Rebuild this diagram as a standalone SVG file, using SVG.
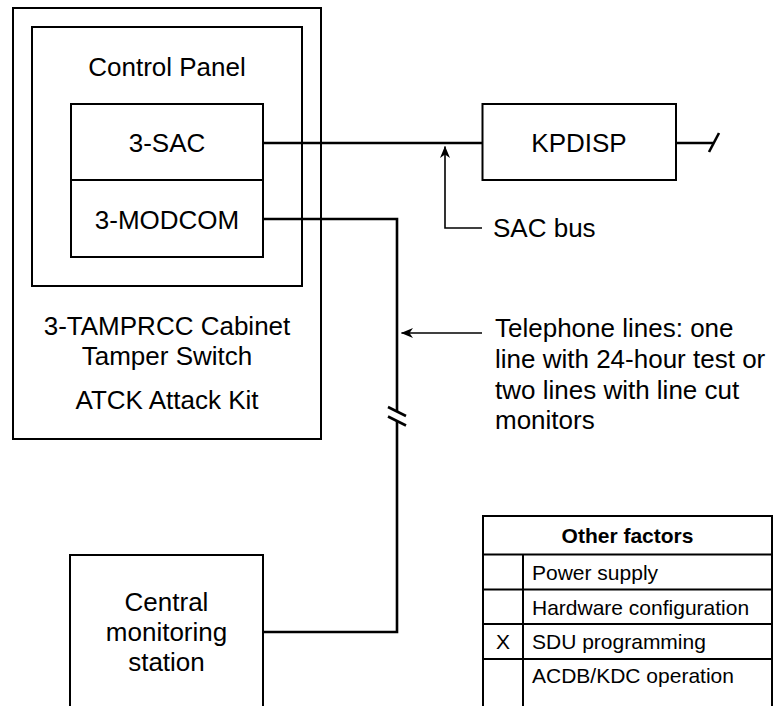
<svg xmlns="http://www.w3.org/2000/svg" width="776" height="706" viewBox="0 0 776 706">
<defs>
<style>
.box{fill:none;stroke:#000;stroke-width:2}
.t{font-family:"Liberation Sans",Arial,Helvetica,sans-serif;font-size:26px;fill:#000}
.c{text-anchor:middle}
.tb{font-family:"Liberation Sans",Arial,Helvetica,sans-serif;font-size:21px;fill:#000}
.b{font-weight:bold}
.w{fill:none;stroke:#000;stroke-width:2.6}
.thin{fill:none;stroke:#000;stroke-width:1.6}
</style>
<marker id="ah" viewBox="0 0 12 10" refX="11.5" refY="5" markerWidth="12" markerHeight="10" markerUnits="userSpaceOnUse" orient="auto">
<path d="M0,0 L12,5 L0,10 L3.5,5 Z" fill="#000"/>
</marker>
</defs>
<rect width="776" height="706" fill="#fff"/>

<g id="cabinet">
<rect class="box" x="13" y="8" width="308" height="431"/>
<text class="t c" x="167" y="335">3-TAMPRCC Cabinet</text>
<text class="t c" x="167" y="365">Tamper Switch</text>
<text class="t c" x="167" y="409">ATCK Attack Kit</text>
</g>
<g id="control-panel">
<rect class="box" x="32" y="27" width="270" height="259"/>
<text class="t c" x="167" y="76">Control Panel</text>
</g>
<g id="sac">
<rect class="box" x="71" y="104" width="192" height="76"/>
<text class="t c" x="167" y="152">3-SAC</text>
</g>
<g id="modcom">
<rect class="box" x="71" y="180" width="192" height="77"/>
<text class="t c" x="167" y="229">3-MODCOM</text>
</g>
<g id="kpdisp">
<rect class="box" x="482.5" y="104" width="193.5" height="76"/>
<text class="t c" x="579" y="152">KPDISP</text>
</g>
<g id="central">
<rect class="box" x="70" y="555" width="193" height="170"/>
<text class="t c" x="166.5" y="611">Central</text>
<text class="t c" x="166.5" y="641">monitoring</text>
<text class="t c" x="166.5" y="671">station</text>
</g>

<g id="connectors">
<line class="w" x1="263" y1="143" x2="482.5" y2="143"/>
<line class="w" x1="676" y1="143" x2="713" y2="143"/>
<line class="w" x1="719" y1="133" x2="709" y2="152"/>
<polyline class="w" points="263,219 397,219 397,411"/>
<polyline class="w" points="397,421 397,632 263,632"/>
<line class="w" x1="388" y1="407" x2="406" y2="416"/>
<line class="w" x1="388" y1="416.5" x2="406" y2="425.5"/>
<polyline class="thin" points="482,228 445,228 445,146.5" marker-end="url(#ah)"/>
<line class="thin" x1="482" y1="333" x2="401.5" y2="333" marker-end="url(#ah)"/>
</g>

<g id="labels">
<text class="t" x="493" y="237">SAC bus</text>
<text class="t" x="495" y="337">Telephone lines: one</text>
<text class="t" x="495" y="368">line with 24-hour test or</text>
<text class="t" x="495" y="399">two lines with line cut</text>
<text class="t" x="495" y="429">monitors</text>
</g>

<g id="other-factors">
<rect class="box" x="483" y="516" width="289" height="220"/>
<line class="box" x1="483" y1="554.5" x2="772" y2="554.5"/>
<line class="box" x1="483" y1="589.5" x2="772" y2="589.5"/>
<line class="box" x1="483" y1="624" x2="772" y2="624"/>
<line class="box" x1="483" y1="659" x2="772" y2="659"/>
<line class="box" x1="523" y1="554.5" x2="523" y2="736"/>
<text class="tb b c" x="627.5" y="543">Other factors</text>
<text class="tb" x="532" y="580">Power supply</text>
<text class="tb" x="532" y="614.5">Hardware configuration</text>
<text class="tb c" x="503" y="648.5">X</text>
<text class="tb" x="532" y="648.5">SDU programming</text>
<text class="tb" x="532" y="683">ACDB/KDC operation</text>
</g>
</svg>
